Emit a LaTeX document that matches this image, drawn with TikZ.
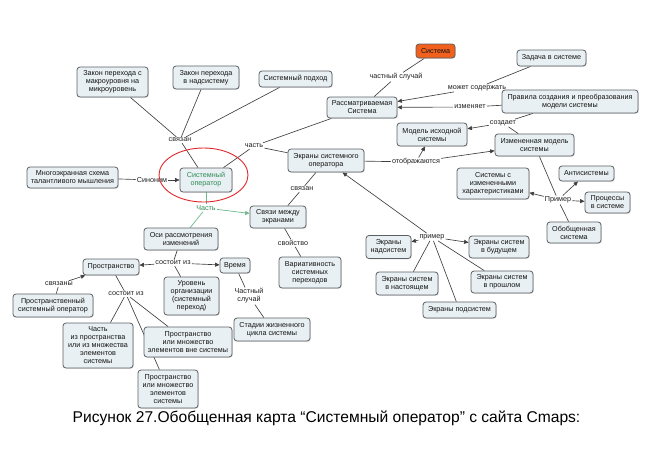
\documentclass[tikz,border=0pt]{standalone}
\usepackage{fontspec}
\setmainfont{Liberation Sans}
\usetikzlibrary{arrows.meta,shadows,backgrounds}
\definecolor{boxfill}{HTML}{E9F0F3}
\definecolor{boxdraw}{HTML}{5A5F63}
\definecolor{lnk}{HTML}{404040}
\definecolor{grn}{HTML}{2E8B57}
\definecolor{grnl}{HTML}{6DBB8C}
\definecolor{orng}{HTML}{F2601E}
\definecolor{redc}{HTML}{E0262B}
\begin{document}
\begin{tikzpicture}[x=1pt,y=-1pt,font=\fontsize{7.2}{8}\selectfont,
  cbox/.style={draw=boxdraw, fill=boxfill, rounded corners=3pt, line width=0.8pt,
    align=center, inner sep=1.5pt, text=black!92,
    drop shadow={shadow xshift=0.8pt, shadow yshift=-0.8pt, opacity=0.25}},
  lbl/.style={inner sep=1pt, text=black!88, align=center},
  conn/.style={draw=lnk, line width=0.65pt},
  arr/.style={conn, -{Triangle[length=4.5pt,width=4pt]}},
  gconn/.style={draw=grnl, line width=0.7pt},
  garr/.style={gconn, -{Triangle[length=4.5pt,width=4pt]}}]
\useasboundingbox (0,0) rectangle (669,450);

% concept boxes
\node[cbox, minimum width=71pt, minimum height=30pt] (zakon1) at (112.5,82) {Закон перехода с\\макроуровня на\\микроуровень};
\node[cbox, minimum width=66pt, minimum height=23pt] (zakon2) at (206,77.5) {Закон перехода\\в надсистему};
\node[cbox, minimum width=73pt, minimum height=16pt] (podhod) at (295.5,79) {Системный подход};
\node[cbox, minimum width=91pt, minimum height=21pt] (mnogo) at (72.5,177.5) {Многоэкранная схема\\талантливого мышления};
\node[cbox, minimum width=52pt, minimum height=24pt, text=grn] (sysop) at (206,180) {Системный\\оператор};
\node[cbox, minimum width=76pt, minimum height=23pt] (ekrany) at (326,160.5) {Экраны системного\\оператора};
\node[cbox, minimum width=56pt, minimum height=22pt] (svyazi) at (278,217) {Связи между\\экранами};
\node[cbox, minimum width=62pt, minimum height=31pt] (variat) at (310,272.5) {Вариативность\\системных\\переходов};
\node[cbox, fill=orng, minimum width=39pt, minimum height=14pt] (sistema) at (435.5,51) {Система};
\node[cbox, minimum width=70pt, minimum height=21pt] (rassm) at (362,107.5) {Рассматриваемая\\Система};
\node[cbox, minimum width=69pt, minimum height=16pt] (zadacha) at (551.5,58) {Задача в системе};
\node[cbox, minimum width=136pt, minimum height=23pt] (pravila) at (570,101.5) {Правила создания и преобразования\\модели системы};
\node[cbox, minimum width=70pt, minimum height=23pt] (model) at (432,134.5) {Модель исходной\\системы};
\node[cbox, minimum width=79pt, minimum height=22pt] (izmmodel) at (534.5,145) {Измененная модель\\системы};
\node[cbox, minimum width=72pt, minimum height=31pt] (sisizm) at (493,183.5) {Системы с\\измененными\\характеристиками};
\node[cbox, minimum width=55pt, minimum height=15pt] (anti) at (586.5,173.5) {Антисистемы};
\node[cbox, minimum width=45pt, minimum height=21pt] (process) at (607.5,202.5) {Процессы\\в системе};
\node[cbox, minimum width=54pt, minimum height=21pt] (obob) at (574,232.5) {Обобщенная\\система};
\node[cbox, minimum width=45pt, minimum height=23pt] (nadsis) at (388.5,247) {Экраны\\надсистем};
\node[cbox, minimum width=60pt, minimum height=22pt] (budush) at (499,247) {Экраны систем\\в будущем};
\node[cbox, minimum width=62pt, minimum height=23pt] (nastoyas) at (407,283.5) {Экраны систем\\в настоящем};
\node[cbox, minimum width=62pt, minimum height=22pt] (proshl) at (502,282) {Экраны систем\\в прошлом};
\node[cbox, minimum width=73pt, minimum height=16pt] (podsis) at (459.5,310) {Экраны подсистем};
\node[cbox, minimum width=74pt, minimum height=22pt] (osi) at (181,239) {Оси рассмотрения\\изменений};
\node[cbox, minimum width=56pt, minimum height=16pt] (prostr) at (111,267) {Пространство};
\node[cbox, minimum width=30pt, minimum height=15pt] (vremya) at (235,265.5) {Время};
\node[cbox, minimum width=55pt, minimum height=38pt] (uroven) at (191.5,296) {Уровень\\организации\\(системный\\переход)};
\node[cbox, minimum width=80pt, minimum height=23pt] (prostrso) at (53,305.5) {Пространственный\\системный оператор};
\node[cbox, minimum width=76pt, minimum height=23pt] (stadii) at (272,329.5) {Стадии жизненного\\цикла системы};
\node[cbox, minimum width=70pt, minimum height=45pt] (chast) at (98,345.5) {Часть\\из пространства\\или из множества\\элементов\\системы};
\node[cbox, minimum width=88pt, minimum height=30pt] (vne) at (188,342) {Пространство\\или множество\\элементов вне системы};
\node[cbox, minimum width=60pt, minimum height=38pt] (elsys) at (168,389) {Пространство\\или множество\\элементов\\системы};

% linking phrases
\node[lbl] (lsvyazan) at (180,140) {связан};
\node[lbl] (lsinonim) at (152,180) {Синоним};
\node[lbl] (lchast1) at (254,146) {часть};
\node[lbl] (lchastn) at (396,77) {частный случай};
\node[lbl] (lmozhet) at (477,88) {может содержать};
\node[lbl] (lizmen) at (470,107) {изменяет};
\node[lbl] (lsozd) at (503,123) {создает};
\node[lbl] (lotobr) at (416,162) {отображаются};
\node[lbl] (lprimerb) at (558,200) {Пример};
\node[lbl] (lprimera) at (432,237) {пример};
\node[lbl] (lsvyazanb) at (302,189) {связан};
\node[lbl] (lsvoistvo) at (293,243) {свойство};
\node[lbl, text=grn] (lchastb) at (206,208) {Часть};
\node[lbl] (lsosta) at (173,263) {состоит из};
\node[lbl] (lsvyazany) at (59,284) {связаны};
\node[lbl] (lsostb) at (126,294) {состоит из};
\node[lbl] (lchastnb) at (249,296) {Частный\\случай};

% red highlight
\draw[redc, line width=0.9pt] (203.5,175) ellipse [x radius=44.5, y radius=27];

% caption
\node[font=\fontsize{15.6}{17}\selectfont, text=black] (caption) at (326.5,418) {Рисунок 27.Обобщенная карта “Системный оператор” с сайта Cmaps:};

\begin{scope}[on background layer]
\draw[conn] (zakon1) -- (lsvyazan);
\draw[conn] (zakon2) -- (lsvyazan);
\draw[conn] (podhod) -- (lsvyazan);
\draw[conn] (lsvyazan) -- (sysop);
\draw[conn] (mnogo) -- (lsinonim);
\draw[arr] (lsinonim) -- (sysop);
\draw[conn] (sysop) -- (lchast1);
\draw[conn] (lchast1) -- (rassm);
\draw[conn] (lchast1) -- (ekrany);
\draw[conn] (sistema) -- (lchastn);
\draw[conn] (lchastn) -- (rassm);
\draw[conn] (zadacha) -- (lmozhet);
\draw[arr] (lmozhet) -- (rassm);
\draw[conn] (pravila) -- (lizmen);
\draw[arr] (lizmen) -- (rassm);
\draw[conn] (pravila) -- (lsozd);
\draw[arr] (lsozd) -- (model);
\draw[conn] (lsozd) -- (izmmodel);
\draw[conn] (ekrany) -- (lotobr);
\draw[arr] (lotobr) -- (model);
\draw[arr] (lotobr) -- (izmmodel);
\draw[conn] (izmmodel) -- (lprimerb);
\draw[conn] (obob) -- (lprimerb);
\draw[arr] (lprimerb) -- (sisizm);
\draw[arr] (lprimerb) -- (anti);
\draw[arr] (lprimerb) -- (process);
\draw[arr] (lprimera) -- (ekrany);
\draw[arr] (lprimera) -- (nadsis);
\draw[arr] (lprimera) -- (budush);
\draw[conn] (lprimera) -- (nastoyas);
\draw[conn] (lprimera) -- (podsis);
\draw[conn] (lprimera) -- (proshl);
\draw[conn] (ekrany) -- (lsvyazanb);
\draw[conn] (lsvyazanb) -- (svyazi);
\draw[conn] (svyazi) -- (lsvoistvo);
\draw[conn] (lsvoistvo) -- (variat);
\draw[gconn] (sysop) -- (lchastb);
\draw[garr] (lchastb) -- (svyazi);
\draw[gconn] (lchastb) -- (osi);
\draw[conn] (osi) -- (lsosta);
\draw[arr] (lsosta) -- (prostr);
\draw[arr] (lsosta) -- (vremya);
\draw[conn] (lsosta) -- (uroven);
\draw[conn] (prostrso) -- (lsvyazany);
\draw[arr] (lsvyazany) -- (prostr);
\draw[conn] (prostr) -- (lsostb);
\draw[conn] (lsostb) -- (chast);
\draw[conn] (lsostb) -- (vne);
\draw[conn] (lsostb) -- (elsys);
\draw[conn] (vremya) -- (lchastnb);
\draw[conn] (lchastnb) -- (stadii);
\end{scope}
\end{tikzpicture}
\end{document}
